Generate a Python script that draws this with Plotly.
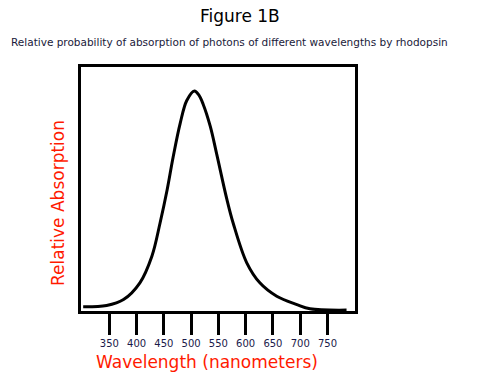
import plotly.graph_objects as go

wavelength_nm = [302, 345, 376, 406, 428, 443, 456, 467, 480, 492, 506, 514, 522, 535, 547, 565, 577, 602, 626, 657, 694, 718, 785]
relative_absorption = [0.019, 0.025, 0.052, 0.128, 0.249, 0.40, 0.551, 0.70, 0.854, 0.957, 1.0, 0.982, 0.940, 0.840, 0.712, 0.513, 0.40, 0.219, 0.128, 0.067, 0.029, 0.010, 0.004]
tick_values = [350, 400, 450, 500, 550, 600, 650, 700, 750]
tick_labels = [str(v) for v in tick_values]

W, H = 479, 377
pl, pr, pt, pb = 81, 124, 67, 66
pw, ph = W - pl - pr, H - pt - pb

def px_to_paper(x, y):
    return (x - pl) / pw, (H - pb - y) / ph

fig = go.Figure()
fig.add_trace(go.Scatter(
    x=wavelength_nm, y=relative_absorption, mode="lines",
    line=dict(color="black", width=3, shape="spline", smoothing=1.0),
    hoverinfo="skip", showlegend=False,
))

def ann(text, px, py, size, color, angle=0):
    x, y = px_to_paper(px, py)
    return dict(text=text, x=x, y=y, xref="paper", yref="paper", showarrow=False,
                xanchor="center", yanchor="middle", textangle=angle,
                font=dict(size=size, color=color, family="DejaVu Sans"))

fig.update_layout(
    width=W, height=H,
    margin=dict(l=pl, r=pr, t=pt, b=pb),
    paper_bgcolor="white", plot_bgcolor="white",
    font=dict(family="DejaVu Sans", color="#1a1a4a"),
    annotations=[
        ann("Figure 1B", 240, 16, 17, "black"),
        ann("Relative probability of absorption of photons of different wavelengths by rhodopsin",
            230, 42, 10.5, "#1a1a3a"),
        ann("Wavelength (nanometers)", 206.5, 362, 17, "#ff1a00"),
        ann("Relative Absorption", 58, 203, 17, "#ff1a00", angle=-90),
    ],
)

fig.update_xaxes(
    range=[298, 800.5], showgrid=False, zeroline=False,
    showline=True, linecolor="black", linewidth=3, mirror=True,
    ticks="outside", ticklen=21, tickwidth=3, tickcolor="black",
    tickvals=tick_values, ticktext=tick_labels,
    tickfont=dict(size=10, color="#1a1a4a"),
)
fig.update_yaxes(
    range=[0, 1.109], showgrid=False, zeroline=False,
    showline=True, linecolor="black", linewidth=3, mirror=True,
    ticks="", showticklabels=False,
)

fig.write_html("out.html", post_script="document.body.style.margin='0';",
               config={"displayModeBar": False})
